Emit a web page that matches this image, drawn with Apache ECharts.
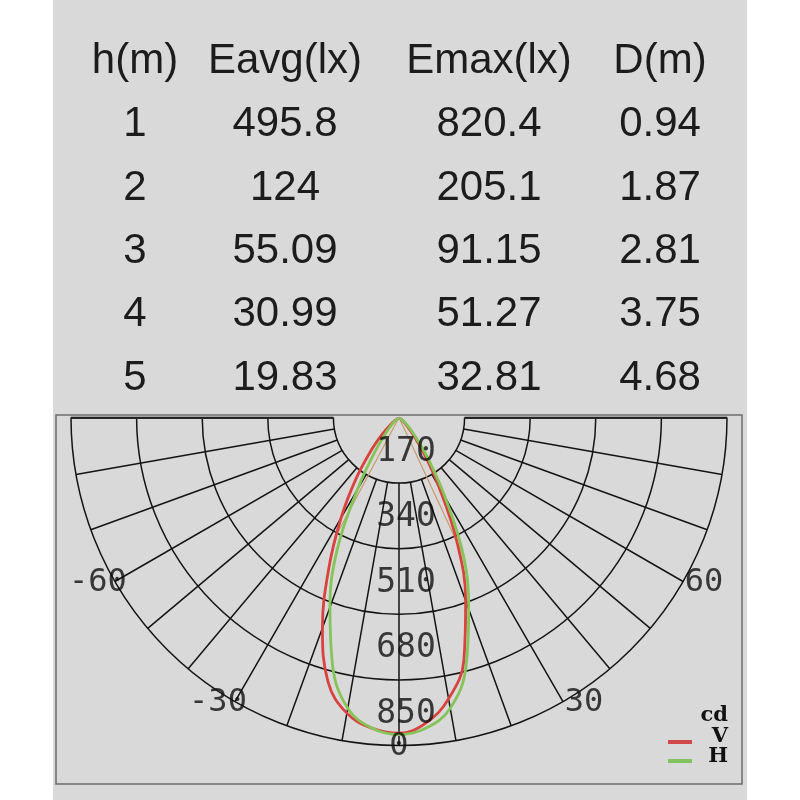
<!DOCTYPE html>
<html>
<head>
<meta charset="utf-8">
<script src="https://cdn.jsdelivr.net/npm/echarts@6/dist/echarts.min.js"></script>
<style>
html, body { margin: 0; padding: 0; background: #fff; }
#panel { position: absolute; left: 53px; top: 0; width: 694px; height: 800px; background: #d9d9d9; }
#main { position: absolute; left: 0; top: 0; width: 800px; height: 800px; }
</style>
</head>
<body>
<div id="panel"></div>
<div id="main"></div>
<script>
// illuminance table
var tableHeader = ["h(m)", "Eavg(lx)", "Emax(lx)", "D(m)"];
var heights = ["1", "2", "3", "4", "5"];
var eavg = ["495.8", "124", "55.09", "30.99", "19.83"];
var emax = ["820.4", "205.1", "91.15", "51.27", "32.81"];
var diam = ["0.94", "1.87", "2.81", "3.75", "4.68"];

// candela curve, angle in degrees (0 = straight down)
var curveAngles = [-60, -55, -50, -45, -40, -35, -30, -25, -20, -15, -10, -5, 0,
                   5, 10, 15, 20, 25, 30, 35, 40, 45, 50, 55, 60];
var vCandela = [0, 8, 28, 62, 115, 195, 300, 430, 580, 710, 778, 808, 818,
                795, 740, 650, 505, 355, 205, 110, 52, 25, 10, 3, 0];
var hCandela = [0, 4, 12, 28, 55, 110, 215, 380, 523, 665, 765, 808, 822,
                808, 765, 670, 528, 395, 240, 135, 70, 38, 18, 6, 0];
var beamAngles = [-28, 25];
var beamCandela = [345, 400];
var radiusTicks = [170, 340, 510, 680, 850];
var angleTicks = [-60, -30, 0, 30, 60];

var chart = echarts.init(document.getElementById("main"));

var cx = 399, cy = 417.5, rOut = 328, rMax = 850;
var gridColor = "#141414";
var mono = "DejaVu Sans Mono";

function pairs(vals) {
    return curveAngles.map(function(a, i) { return [vals[i], a] })
}

// table text
var colX = [135, 285, 489, 660], rowY0 = 61.5, rowStep = 63.3;
var columns = [heights, eavg, emax, diam];
var graphics = [];
tableHeader.forEach(function(t, c) {
    graphics.push({type: "text", x: colX[c], y: rowY0, style: {text: t, fill: "#1c1c1c",
        font: "42px 'Liberation Sans'", textAlign: "center", textVerticalAlign: "middle"}})
    columns[c].forEach(function(v, r) {
        graphics.push({type: "text", x: colX[c], y: rowY0 + rowStep * (r + 1), style: {text: v, fill: "#1c1c1c",
            font: "42px 'Liberation Sans'", textAlign: "center", textVerticalAlign: "middle"}})
    })
})
// frame round the diagram
graphics.push({type: "rect", shape: {x: 56, y: 415, width: 686, height: 369},
    style: {fill: null, stroke: "#6c6c6c", lineWidth: 1.5}})
// legend
var legFont = "bold 21px 'DejaVu Serif'";
graphics.push({type: "text", x: 728, y: 716, style: {text: "cd", font: legFont, fill: "#111", textAlign: "right", textVerticalAlign: "middle"}})
graphics.push({type: "text", x: 728, y: 737, style: {text: "V", font: legFont, fill: "#111", textAlign: "right", textVerticalAlign: "middle"}})
graphics.push({type: "text", x: 728, y: 757, style: {text: "H", font: legFont, fill: "#111", textAlign: "right", textVerticalAlign: "middle"}})
graphics.push({type: "line", shape: {x1: 668, y1: 742, x2: 692, y2: 742}, style: {stroke: "#d0484a", lineWidth: 4}})
graphics.push({type: "line", shape: {x1: 668, y1: 761, x2: 692, y2: 761}, style: {stroke: "#80c25c", lineWidth: 4}})

var angleBase = {type: "value", min: -90, max: 90, interval: 10, startAngle: 180, endAngle: 360, clockwise: false,
    axisLine: {show: false}, axisTick: {show: false}, axisLabel: {show: false}};

chart.setOption({
    animation: false,
    graphic: graphics,
    polar: [
        {center: [cx, cy], radius: [rOut * radiusTicks[0] / rMax, rOut]},
        {center: [cx, cy], radius: [0, rOut]}
    ],
    angleAxis: [
        Object.assign({polarIndex: 0, splitLine: {show: true, lineStyle: {color: gridColor, width: 1.5}}}, angleBase),
        Object.assign({polarIndex: 1, splitLine: {show: false}}, angleBase)
    ],
    radiusAxis: [
        {polarIndex: 0, type: "value", min: radiusTicks[0], max: rMax, interval: 170,
            axisLine: {show: false}, axisTick: {show: false}, axisLabel: {show: false},
            splitLine: {show: true, lineStyle: {color: gridColor, width: 1.5}}},
        {polarIndex: 1, type: "value", min: 0, max: rMax,
            axisLine: {show: false}, axisTick: {show: false}, axisLabel: {show: false}, splitLine: {show: false}}
    ],
    series: [
        {type: "line", coordinateSystem: "polar", polarIndex: 0, silent: true, symbol: "none",
            data: [[rMax, -90], [rMax, 90]], lineStyle: {color: "#2a2a2a", width: 3}},
        {type: "line", coordinateSystem: "polar", polarIndex: 1, silent: true, symbol: "none",
            data: [[beamCandela[0], beamAngles[0]], [0, 0], [beamCandela[1], beamAngles[1]]],
            lineStyle: {color: "#c99a6c", width: 1.2}},
        {name: "V", type: "line", coordinateSystem: "polar", polarIndex: 1, symbol: "none", smooth: 0.4,
            data: pairs(vCandela), lineStyle: {color: "#d9433f", width: 2.8}},
        {name: "H", type: "line", coordinateSystem: "polar", polarIndex: 1, symbol: "none", smooth: 0.4,
            data: pairs(hCandela), lineStyle: {color: "#84c458", width: 2.8}},
        {type: "scatter", coordinateSystem: "polar", polarIndex: 1, symbolSize: 0, silent: true, z: 5,
            data: radiusTicks.map(function(v) { return [v, 0] }),
            label: {show: true, position: "inside", offset: [7, -31], formatter: function(p) { return p.value[0] },
                fontFamily: mono, fontSize: 33, color: "#0e0e0e"}},
        {type: "scatter", coordinateSystem: "polar", polarIndex: 1, symbolSize: 0, silent: true, z: 5,
            data: angleTicks.map(function(a) {
                return {value: [rMax, a], label: {offset: [a > 0 ? 21 : a < 0 ? -17 : 0, 1]}}
            }),
            label: {show: true, position: "inside", formatter: function(p) { return p.value[1] },
                fontFamily: mono, fontSize: 32, color: "#0e0e0e"}}
    ]
});
</script>
</body>
</html>
